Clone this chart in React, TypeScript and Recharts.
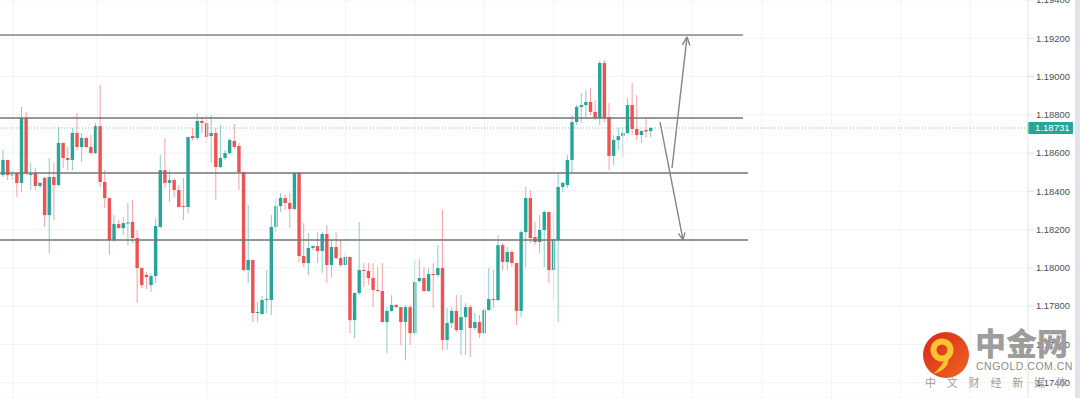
import { Bar, CartesianGrid, ComposedChart, ReferenceLine, XAxis, YAxis } from "recharts";

// EURUSD candles left to right
const opens = [
  1.18485, 1.18564, 1.18483, 1.18496, 1.18444, 1.18783, 1.18485, 1.18496, 1.18428, 1.1847,
  1.18276, 1.18475, 1.18433, 1.18653, 1.18574, 1.18564, 1.18705, 1.18632, 1.18679, 1.18632,
  1.186, 1.18741, 1.18449, 1.18365, 1.18146, 1.18229, 1.18208, 1.18232, 1.1824, 1.18156,
  1.17999, 1.17963, 1.1791, 1.17957, 1.18214, 1.18511, 1.18444, 1.18459, 1.18407, 1.18323,
  1.18318, 1.18689, 1.18679, 1.18768, 1.18757, 1.18689, 1.18705, 1.18527, 1.18574, 1.186,
  1.18663, 1.18637, 1.18501, 1.17989, 1.18041, 1.17764, 1.17759, 1.17832, 1.17832, 1.18214,
  1.18323, 1.18365, 1.18339, 1.18308, 1.18496, 1.18062, 1.18025, 1.18104, 1.18114, 1.18088,
  1.18177, 1.18015, 1.18109, 1.18051, 1.18015, 1.18057, 1.17727, 1.17869, 1.17989, 1.17984,
  1.17947, 1.17884, 1.17879, 1.17717, 1.17775, 1.17806, 1.17795, 1.17717, 1.17795, 1.17659,
  1.17931, 1.17947, 1.17879, 1.17968, 1.17963, 1.17999, 1.17623, 1.17712, 1.17775, 1.17675,
  1.17743, 1.17795, 1.17686, 1.17717, 1.17659, 1.1778, 1.17837, 1.17832, 1.18119, 1.18031,
  1.18083, 1.18025, 1.17775, 1.18187, 1.18365, 1.18161, 1.18135, 1.18198, 1.18292, 1.17989,
  1.18146, 1.18423, 1.18433, 1.18564, 1.18762, 1.18841, 1.18851, 1.18867, 1.18815, 1.18783,
  1.19071, 1.18788, 1.18585, 1.18668, 1.18689, 1.18705, 1.18851, 1.18726, 1.18694, 1.18721,
  1.18715,
];
const highs = [
  1.18616, 1.18566, 1.18511, 1.18501, 1.18841, 1.18815, 1.18548, 1.18522, 1.18449, 1.18475,
  1.18574, 1.18548, 1.18736, 1.18655, 1.18632, 1.18731, 1.18809, 1.18705, 1.18684, 1.18694,
  1.18757, 1.18956, 1.18511, 1.18367, 1.18276, 1.1825, 1.18266, 1.18339, 1.18355, 1.18198,
  1.18001, 1.17978, 1.17973, 1.18261, 1.1859, 1.18679, 1.18511, 1.1847, 1.18433, 1.1847,
  1.18686, 1.18731, 1.18809, 1.18788, 1.18799, 1.18799, 1.18731, 1.18747, 1.18616, 1.18679,
  1.18752, 1.18653, 1.18503, 1.18329, 1.18043, 1.17822, 1.17853, 1.17989, 1.18276, 1.1836,
  1.18391, 1.18381, 1.18391, 1.18501, 1.18501, 1.18234, 1.18182, 1.18119, 1.18187, 1.18187,
  1.18224, 1.18146, 1.18187, 1.18146, 1.18078, 1.18059, 1.17871, 1.1824, 1.18025, 1.18025,
  1.18025, 1.18004, 1.18025, 1.17795, 1.17858, 1.17811, 1.17797, 1.17806, 1.17806, 1.18041,
  1.18046, 1.18004, 1.17999, 1.18025, 1.18119, 1.18302, 1.1779, 1.17795, 1.17858, 1.17858,
  1.17816, 1.17806, 1.17764, 1.17754, 1.1779, 1.17999, 1.17989, 1.18172, 1.1813, 1.18109,
  1.18093, 1.18027, 1.18198, 1.18423, 1.18407, 1.1824, 1.18276, 1.18302, 1.18294, 1.18302,
  1.18496, 1.18449, 1.1859, 1.18799, 1.18851, 1.18914, 1.1893, 1.1894, 1.18877, 1.19081,
  1.19086, 1.18862, 1.18694, 1.18731, 1.18736, 1.18888, 1.18966, 1.18903, 1.18721, 1.18783,
  1.18736,
];
const lows = [
  1.18475, 1.18459, 1.18459, 1.1837, 1.18397, 1.18485, 1.18407, 1.18407, 1.18417, 1.18214,
  1.18078, 1.1825, 1.18428, 1.18522, 1.18511, 1.18511, 1.18616, 1.18553, 1.18627, 1.18598,
  1.18595, 1.18423, 1.18313, 1.18067, 1.18135, 1.18206, 1.18172, 1.18119, 1.1813, 1.17816,
  1.17895, 1.1789, 1.17874, 1.17921, 1.18208, 1.18417, 1.18344, 1.1837, 1.18316, 1.1825,
  1.18287, 1.18668, 1.18668, 1.18705, 1.18653, 1.18553, 1.18355, 1.18522, 1.18564, 1.1859,
  1.18621, 1.18407, 1.17985, 1.17921, 1.17717, 1.17717, 1.17754, 1.17764, 1.17754, 1.18187,
  1.18292, 1.18302, 1.18208, 1.18302, 1.18031, 1.18004, 1.17963, 1.18093, 1.18025, 1.17973,
  1.17921, 1.17952, 1.18046, 1.18004, 1.1801, 1.17659, 1.17633, 1.17858, 1.179, 1.1791,
  1.17795, 1.17874, 1.17715, 1.17555, 1.17769, 1.1779, 1.17597, 1.17518, 1.17597, 1.17649,
  1.17921, 1.17874, 1.17874, 1.1779, 1.17952, 1.17571, 1.17571, 1.17686, 1.17665, 1.17545,
  1.17545, 1.17534, 1.17675, 1.17633, 1.17649, 1.17775, 1.1779, 1.17827, 1.17989, 1.17989,
  1.18004, 1.17701, 1.17743, 1.18004, 1.1813, 1.18119, 1.18078, 1.18004, 1.17921, 1.17832,
  1.17717, 1.18397, 1.18417, 1.18496, 1.18747, 1.18757, 1.18788, 1.18799, 1.18773, 1.18747,
  1.18762, 1.18511, 1.18538, 1.18616, 1.18579, 1.187, 1.18694, 1.18668, 1.18653, 1.18679,
  1.18684,
];
const closes = [
  1.18564, 1.18485, 1.18489, 1.18444, 1.18783, 1.18496, 1.18491, 1.18428, 1.18444, 1.18276,
  1.18475, 1.18433, 1.18653, 1.18574, 1.18564, 1.18705, 1.18632, 1.18679, 1.18632, 1.186,
  1.18741, 1.18449, 1.18365, 1.18146, 1.18229, 1.18208, 1.18234, 1.18237, 1.18156, 1.17999,
  1.1791, 1.17952, 1.17957, 1.18219, 1.18511, 1.18444, 1.18459, 1.18407, 1.18318, 1.18318,
  1.18684, 1.18679, 1.18768, 1.18757, 1.18684, 1.18705, 1.18527, 1.18574, 1.186, 1.18668,
  1.18632, 1.18501, 1.17989, 1.18041, 1.17764, 1.17769, 1.17832, 1.17837, 1.18214, 1.18323,
  1.18365, 1.18339, 1.18308, 1.18496, 1.18062, 1.18025, 1.18104, 1.18114, 1.18088, 1.18177,
  1.18015, 1.18109, 1.18051, 1.18015, 1.18057, 1.17727, 1.17869, 1.17989, 1.17984, 1.17947,
  1.17884, 1.17879, 1.17717, 1.17775, 1.17806, 1.17795, 1.17717, 1.17795, 1.17659, 1.17926,
  1.17947, 1.17879, 1.17968, 1.17963, 1.17999, 1.17623, 1.17712, 1.17775, 1.17675, 1.17743,
  1.17795, 1.17686, 1.17717, 1.17659, 1.1778, 1.17837, 1.17832, 1.18119, 1.18031, 1.18083,
  1.18025, 1.17775, 1.18187, 1.18365, 1.18156, 1.18135, 1.18198, 1.18292, 1.17989, 1.18151,
  1.18423, 1.18444, 1.18564, 1.18762, 1.18841, 1.18851, 1.18867, 1.18815, 1.18783, 1.19071,
  1.18783, 1.18585, 1.18668, 1.18689, 1.18705, 1.18851, 1.18726, 1.18694, 1.18715, 1.18713,
  1.18731,
];

const priceTicks = [1.174, 1.176, 1.178, 1.18, 1.182, 1.184, 1.186, 1.188, 1.19, 1.192, 1.194];
const lastPrice = 1.18731;

// drawn support / resistance levels (price, last candle slot they reach)
const levelPrices = [1.19217, 1.18783, 1.18496, 1.18146];
const levelEnds = [159.9, 159.9, 161.0, 161.0];

// session separators, in candle slots
const sessionSlots = [2.1, 20.3, 44, 59, 74, 89, 104, 119, 134, 149, 164, 179, 194, 209];

// the two hand-drawn arrows: [slot, price] for tail, tip and the two head strokes
const arrowUp = { tail: [144.55, 1.18522], tip: [147.8, 1.19207], heads: [[146.78, 1.19166], [148.42, 1.19162]] };
const arrowDown = { tail: [141.96, 1.18762], tip: [146.93, 1.18146], heads: [[147.34, 1.18186], [145.91, 1.1818]] };

const UP = "#26a69a";
const DOWN = "#ef5350";

const data = opens.map((o, i) => ({ i, o, h: highs[i], l: lows[i], c: closes[i], range: [lows[i], highs[i]] }));

const Candle = (props: any) => {
  const { x, y, width, height, payload } = props;
  if (!payload || x == null) return null;
  const { o, h, l, c } = payload;
  const top = Math.min(y, y + height);
  const span = Math.abs(height);
  const k = h === l ? 0 : span / (h - l);
  const py = (v: number) => top + (h - v) * k;
  const cx = x + width / 2;
  const color = c >= o ? UP : DOWN;
  const bodyTop = py(Math.max(o, c));
  const bodyH = Math.max(1, py(Math.min(o, c)) - bodyTop);
  return (
    <g>
      <line x1={cx} x2={cx} y1={top} y2={top + span} stroke={color} strokeOpacity={0.55} strokeWidth={1} />
      <rect x={cx - 1.7} y={bodyTop} width={3.4} height={bodyH} fill={color} />
    </g>
  );
};

const PriceTag = (props: any) => {
  const vb = props.viewBox;
  if (!vb) return null;
  const x = vb.x + vb.width;
  return (
    <g>
      <rect x={x - 0.5} y={vb.y - 6} width={45.5} height={12} fill={UP} rx={1} />
      <text x={x + 7} y={vb.y + 3.4} fill="#fff" fontSize={9.6} fontFamily="Liberation Sans, Arial, sans-serif">
        {lastPrice.toFixed(5)}
      </text>
    </g>
  );
};

const Arrow = ({ a }: { a: typeof arrowUp }) => null;

const arrowSegments = [arrowUp, arrowDown].flatMap((a) => [
  [a.tail, a.tip],
  [a.heads[0], a.tip],
  [a.heads[1], a.tip],
]);

const Watermark = () => (
  <svg width={1080} height={398} style={{ position: "absolute", left: 0, top: 0, pointerEvents: "none" }}>
    <defs>
      <linearGradient id="logo" x1="0" y1="0" x2="1" y2="1">
        <stop offset="0" stopColor="#d8261d" />
        <stop offset="1" stopColor="#f0661f" />
      </linearGradient>
    </defs>
    <circle cx={946} cy={355} r={23} fill="url(#logo)" />
    <circle cx={942} cy={350} r={8.5} fill="none" stroke="#f8c531" strokeWidth={6} />
    <path d="M 947 354 Q 953 368 933 374 Q 947 362 943 356 Z" fill="#f8c531" />
    <text x={975} y={355} fontSize={31} fontWeight={900} fill="#9d9d9d" fontFamily="Noto Sans CJK SC, sans-serif">
      中金网
    </text>
    <text x={976} y={370} fontSize={10.5} fill="#8c8c8c" letterSpacing={0.5} fontFamily="Liberation Sans, Arial, sans-serif">
      CNGOLD.COM.CN
    </text>
    <text x={925} y={387} fontSize={11} fill="#9d9d9d" letterSpacing={10.8} fontFamily="Noto Sans CJK SC, sans-serif">
      中文财经新媒体
    </text>
  </svg>
);

export default function App() {
  return (
    <div style={{ position: "fixed", left: 0, top: 0, width: 1080, height: 398, background: "#fff" }}>
      <ComposedChart width={1080} height={398} data={data} margin={{ top: 0, right: 0, bottom: 0, left: 0 }}>
        <CartesianGrid vertical={false} stroke="#f1f3f6" />
        <XAxis dataKey="i" type="number" domain={[-0.713, 221.5]} allowDataOverflow hide />
        <YAxis
          orientation="right"
          width={52}
          type="number"
          domain={[1.1732, 1.194]}
          allowDataOverflow
          ticks={priceTicks}
          interval={0}
          tickFormatter={(v: number) => v.toFixed(5)}
          axisLine={{ stroke: "#e0e3eb" }}
          tickLine={{ stroke: "#e0e3eb" }}
          tick={{ fill: "#4c4f59", fontSize: 9.4, fontFamily: "Liberation Sans, Arial, sans-serif" }}
        />
        {sessionSlots.map((s) => (
          <ReferenceLine key={s} x={s} stroke="#f1f3f6" />
        ))}
        {levelPrices.map((p, n) => (
          <ReferenceLine
            key={p}
            segment={[{ x: -0.713, y: p }, { x: levelEnds[n], y: p }]}
            stroke={n === 0 ? "#4a4a4a" : "#747474"}
            strokeWidth={n === 0 ? 1 : 1.6}
          />
        ))}
        <ReferenceLine y={lastPrice} stroke={UP} strokeOpacity={0.6} strokeDasharray="1 2" label={(p: any) => <PriceTag {...p} />} />
        <Bar dataKey="range" barSize={4} isAnimationActive={false} shape={(p: any) => <Candle {...p} />} />
        {arrowSegments.map((seg, n) => (
          <ReferenceLine
            key={`arrow-${n}`}
            segment={[{ x: seg[0][0], y: seg[0][1] }, { x: seg[1][0], y: seg[1][1] }]}
            stroke="#858585"
            strokeWidth={1.4}
          />
        ))}
      </ComposedChart>
      <div style={{ position: "absolute", left: 1075, top: 0, width: 5, height: 398, background: "#e1e3ec" }} />
      <Watermark />
    </div>
  );
}
